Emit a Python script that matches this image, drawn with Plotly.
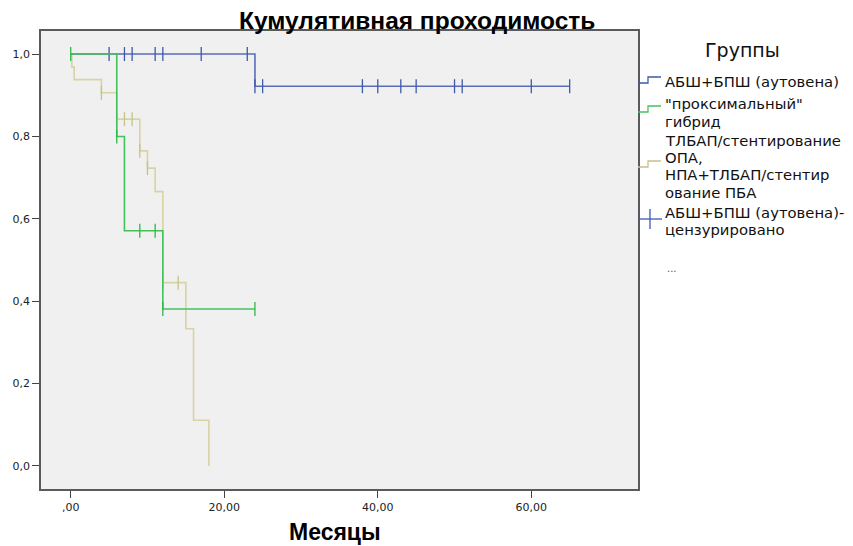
import plotly.graph_objects as go

# ---------------- data ----------------
# Group 1: АБШ+БПШ (аутовена)
blue_t = [0, 24, 65]
blue_s = [1.0, 0.922, 0.922]
blue_cens_t = [5, 7, 8, 11, 12, 17, 23, 24, 25, 38, 40, 43, 45, 50, 51, 60, 65]
blue_cens_s = [1.0, 1.0, 1.0, 1.0, 1.0, 1.0, 1.0, 0.922, 0.922, 0.922, 0.922,
               0.922, 0.922, 0.922, 0.922, 0.922, 0.922]

# Group 2: "проксимальный" гибрид
green_t = [0, 6, 7, 12, 24]
green_s = [1.0, 0.8, 0.571, 0.381, 0.381]
green_cens_t = [0, 6, 9, 11, 12, 24]
green_cens_s = [1.0, 0.8, 0.571, 0.571, 0.381, 0.381]

# Group 3: ТЛБАП/стентирование ОПА, НПА+ТЛБАП/стентирование ПБА
yellow_t = [0, 0.15, 0.45, 4, 6, 9, 10, 11, 12, 15, 16, 18]
yellow_s = [1.0, 0.969, 0.938, 0.906, 0.842, 0.765, 0.723, 0.666, 0.445, 0.333, 0.111, 0.0]
yellow_cens_t = [4, 6, 7, 8, 9, 10, 12, 14]
yellow_cens_s = [0.906, 0.842, 0.842, 0.842, 0.765, 0.723, 0.445, 0.445]

x_tickvals = [0, 20, 40, 60]
x_ticktext = [",00", "20,00", "40,00", "60,00"]
y_tickvals = [0.0, 0.2, 0.4, 0.6, 0.8, 1.0]
y_ticktext = ["0,0", "0,2", "0,4", "0,6", "0,8", "1,0"]

title_text = "Кумулятивная проходимость"
x_title = "Месяцы"
legend_title = "Группы"
legend_lines = [
    ["АБШ+БПШ (аутовена)"],
    ["\"проксимальный\"", "гибрид"],
    ["ТЛБАП/стентирование", "ОПА,", "НПА+ТЛБАП/стентир", "ование ПБА"],
    ["АБШ+БПШ (аутовена)-", "цензурировано"],
]

# ---------------- styling ----------------
BLUE_L, BLUE_M = "#5a6db8", "#3e58ac"
GREEN_L, GREEN_M = "#45c15c", "#2eb848"
YEL_L, YEL_M = "#d8d3a4", "#c8c289"

# the page body has an 8px margin: shrink the figure so it fills the window exactly
OFF = 8
W, H = 853 - OFF, 546 - OFF
# plot-area edges in window pixels: x 41..638, y 31..489
PX0, PX1, PY0, PY1 = 41, 638, 31, 489
L, R, T, B = PX0 - OFF, 853 - PX1, PY0 - OFF, 546 - PY1

fig = go.Figure()

def curve(t, s, color):
    fig.add_trace(go.Scatter(x=t, y=s, mode="lines", line=dict(color=color, width=1.6, shape="hv"),
                             showlegend=False, hoverinfo="skip", cliponaxis=False))

def cens(t, s, color):
    fig.add_trace(go.Scatter(x=t, y=s, mode="markers",
                             marker=dict(symbol="line-ns", size=10, line=dict(color=color, width=1.3)),
                             showlegend=False, hoverinfo="skip"))

curve(yellow_t, yellow_s, YEL_L)
cens(yellow_cens_t, yellow_cens_s, YEL_M)
curve(blue_t, blue_s, BLUE_L)
cens(blue_cens_t, blue_cens_s, BLUE_M)
curve(green_t, green_s, GREEN_L)
cens(green_cens_t, green_cens_s, GREEN_M)

def px(xp):
    return (xp - PX0) / (PX1 - PX0)

def py(yp):
    return (PY1 - yp) / (PY1 - PY0)

annotations = []
shapes = []

# Title
annotations.append(dict(text=title_text, x=px(417), y=py(20), xref="paper", yref="paper",
                        xanchor="center", yanchor="middle", showarrow=False,
                        font=dict(family="Liberation Sans, Arial", size=24.5,
                                  color="#000000", weight="bold")))
# X axis title
annotations.append(dict(text=x_title, x=px(335), y=py(532), xref="paper", yref="paper",
                        xanchor="center", yanchor="middle", showarrow=False,
                        font=dict(family="Liberation Sans, Arial", size=23,
                                  color="#000000", weight="bold")))
# Legend title
annotations.append(dict(text=legend_title, x=px(742), y=py(50), xref="paper", yref="paper",
                        xanchor="center", yanchor="middle", showarrow=False,
                        font=dict(family="DejaVu Sans", size=19, color="#111111")))

line_y = [[81], [104, 121], [140, 157, 174, 192], [212, 230]]
for lines, ys in zip(legend_lines, line_y):
    for txt, yy in zip(lines, ys):
        annotations.append(dict(text=txt, x=px(663), y=py(yy), xref="paper", yref="paper",
                                xanchor="left", yanchor="middle", showarrow=False,
                                font=dict(family="DejaVu Sans", size=14.8, color="#111111")))
annotations.append(dict(text="...", x=px(665), y=py(268), xref="paper", yref="paper",
                        xanchor="left", yanchor="middle", showarrow=False,
                        font=dict(family="DejaVu Sans", size=10, color="#555555")))

def step_icon(ylow, yhigh, color):
    path = "M {} {} L {} {} L {} {} L {} {}".format(px(638), py(ylow), px(648), py(ylow),
                                                   px(648), py(yhigh), px(661), py(yhigh))
    shapes.append(dict(type="path", path=path, xref="paper", yref="paper",
                       line=dict(color=color, width=1.3)))

step_icon(83, 77, BLUE_M)
step_icon(112, 106, GREEN_L)
step_icon(167, 161, YEL_M)
# censored icon (cross)
shapes.append(dict(type="line", x0=px(638), x1=px(662), y0=py(219), y1=py(219), xref="paper", yref="paper",
                   line=dict(color=BLUE_M, width=1.3)))
shapes.append(dict(type="line", x0=px(650), x1=px(650), y0=py(209), y1=py(229), xref="paper", yref="paper",
                   line=dict(color=BLUE_M, width=1.3)))

axis_common = dict(showline=True, linecolor="#5a5a5a", linewidth=1.6, mirror=True,
                   ticks="outside", ticklen=7, tickcolor="#444444", tickwidth=1.2,
                   showgrid=False, zeroline=False, automargin=False,
                   tickfont=dict(family="DejaVu Sans", size=11, color="#222222"))

fig.update_layout(
    width=W, height=H,
    margin=dict(l=L, r=R, t=T, b=B, autoexpand=False),
    paper_bgcolor="white",
    plot_bgcolor="#f0f0f0",
    showlegend=False,
    xaxis=dict(range=[-3.87, 73.9], tickvals=x_tickvals, ticktext=x_ticktext, **axis_common),
    yaxis=dict(range=[-0.056, 1.056], tickvals=y_tickvals, ticktext=y_ticktext, **axis_common),
    annotations=annotations,
    shapes=shapes,
)

fig.write_html("out.html")
